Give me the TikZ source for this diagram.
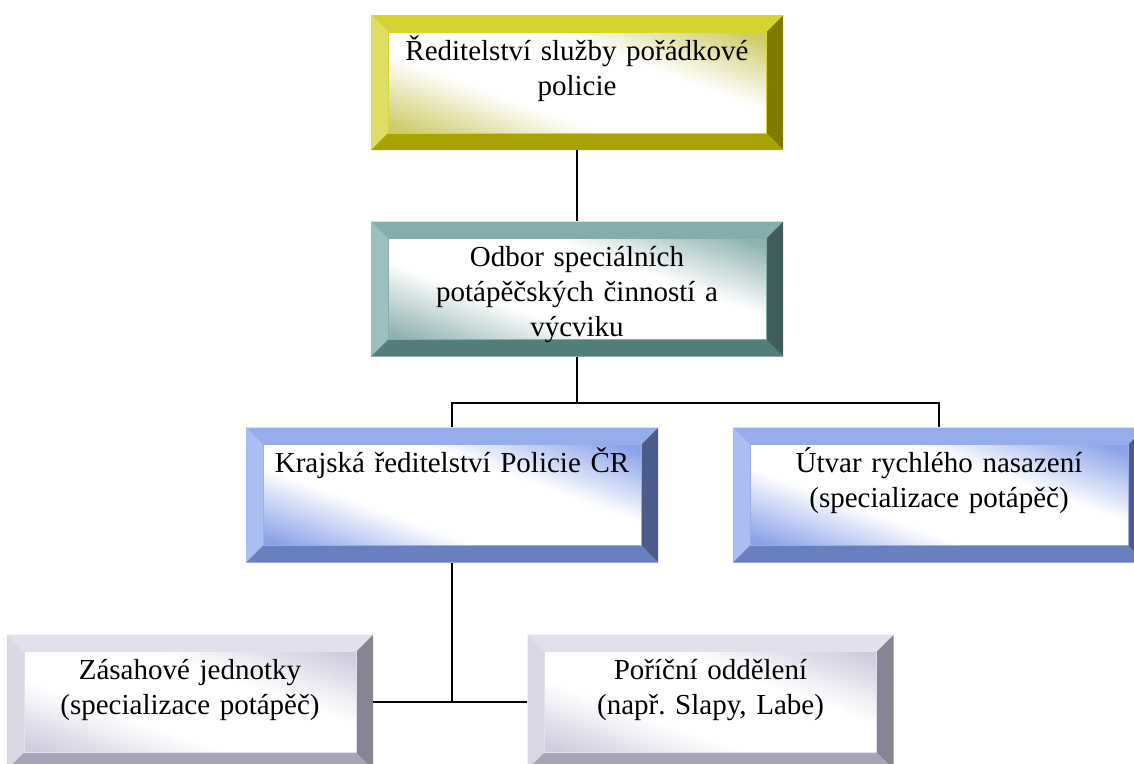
\documentclass[tikz,border=0pt]{standalone}
\usepackage{fontspec}
\setmainfont{Liberation Serif}
\usetikzlibrary{calc}
\frenchspacing
\definecolor{ytop}{HTML}{D7D331}\definecolor{yleft}{HTML}{E0DD66}\definecolor{yright}{HTML}{7F7B00}\definecolor{ybot}{HTML}{A8A300}\definecolor{yin}{HTML}{CFCB6A}
\definecolor{ttop}{HTML}{84AEAC}\definecolor{tleft}{HTML}{9BC0BE}\definecolor{tright}{HTML}{3E5D5B}\definecolor{tbot}{HTML}{547E7C}\definecolor{tin}{HTML}{8FB3B1}
\definecolor{btop}{HTML}{95AEEB}\definecolor{bleft}{HTML}{A9BFF1}\definecolor{bright}{HTML}{4A5B8C}\definecolor{bbot}{HTML}{6880C0}\definecolor{bin}{HTML}{8AA3E8}
\definecolor{ltop}{HTML}{E1E1EE}\definecolor{lleft}{HTML}{D9D9E6}\definecolor{lright}{HTML}{858595}\definecolor{lbot}{HTML}{A5A5B5}\definecolor{lin}{HTML}{CDCDDF}
\pgfdeclareverticalshading{yshade}{100bp}{color(0bp)=(yin); color(20bp)=(yin); color(39bp)=(white); color(61bp)=(white); color(80bp)=(yin); color(100bp)=(yin)}
\pgfdeclareverticalshading{tshade}{100bp}{color(0bp)=(tin); color(20bp)=(tin); color(39bp)=(white); color(61bp)=(white); color(80bp)=(tin); color(100bp)=(tin)}
\pgfdeclareverticalshading{bshade}{100bp}{color(0bp)=(bin); color(20bp)=(bin); color(39bp)=(white); color(61bp)=(white); color(80bp)=(bin); color(100bp)=(bin)}
\pgfdeclareverticalshading{lshade}{100bp}{color(0bp)=(lin); color(20bp)=(lin); color(39bp)=(white); color(61bp)=(white); color(80bp)=(lin); color(100bp)=(lin)}
\tikzset{
  x=1pt, y=-1pt,
  bevbox/.style={rectangle, inner sep=0pt, minimum width=412pt, text width=390pt, align=center,
    text height=45pt, text depth=90pt, font=\fontsize{29}{35}\selectfont,
    path picture={
      \fill[#1left] (path picture bounding box.north west) -- (path picture bounding box.south west)
        -- ++(17pt,17pt) -- ($(path picture bounding box.north west)+(17pt,-17pt)$) -- cycle;
      \fill[#1right] (path picture bounding box.north east) -- (path picture bounding box.south east)
        -- ++(-17pt,17pt) -- ($(path picture bounding box.north east)+(-17pt,-17pt)$) -- cycle;
      \fill[#1top] (path picture bounding box.north west) -- (path picture bounding box.north east)
        -- ++(-17pt,-17pt) -- ($(path picture bounding box.north west)+(17pt,-17pt)$) -- cycle;
      \fill[#1bot] (path picture bounding box.south west) -- (path picture bounding box.south east)
        -- ++(-17pt,17pt) -- ($(path picture bounding box.south west)+(17pt,17pt)$) -- cycle;
      \shade[shading=#1shade, shading angle=-20]
        ($(path picture bounding box.north west)+(17pt,-17pt)$) rectangle ($(path picture bounding box.south east)+(-17pt,17pt)$);
      \draw[#1top, line width=0.8pt] ($(path picture bounding box.north west)+(17pt,-17pt)$) rectangle ($(path picture bounding box.south east)+(-17pt,17pt)$);
    }},
  small/.style={minimum width=366pt, text width=350pt},
  conn/.style={line width=1.6pt, black}
}
\begin{document}
\begin{tikzpicture}
\useasboundingbox (0,0) rectangle (1134,763);
\node[bevbox=y] (a) at (577,82.5) {Ředitelství služby pořádkové\\policie};
\node[bevbox=t] (b) at (577,289) {Odbor speciálních\\potápěčských činností a\\výcviku};
\node[bevbox=b] (c) at (452,495) {Krajská ředitelství Policie ČR};
\node[bevbox=b] (d) at (939,495) {Útvar rychlého nasazení\\(specializace potápěč)};
\node[bevbox=l, small] (e) at (190,702) {Zásahové jednotky\\(specializace potápěč)};
\node[bevbox=l, small] (f) at (710.5,702) {Poříční oddělení\\(např. Slapy, Labe)};
\coordinate (j1) at (577,403);
\draw[conn] (a.south) -- (b.north);
\draw[conn] (b.south) -- (j1);
\draw[conn] (c.north) -- (c.north |- j1) -- (d.north |- j1) -- (d.north);
\draw[conn] (c.south) -- (c.south |- e.east);
\draw[conn] (e.east) -- (f.west);
\end{tikzpicture}
\end{document}
